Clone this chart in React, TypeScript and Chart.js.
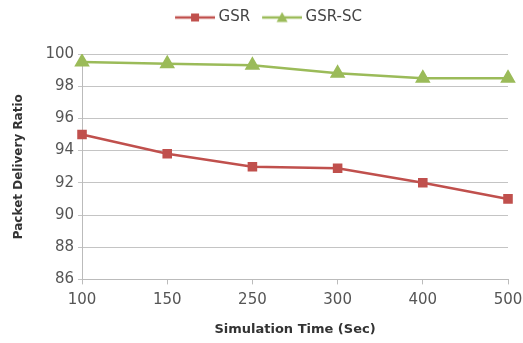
import React, { useEffect, useRef } from "react";
import { Chart, registerables } from "chart.js";

Chart.register(...registerables);

const categories = ["100", "150", "250", "300", "400", "500"];
const gsr = [95.0, 93.8, 93.0, 92.9, 92.0, 91.0];
const gsrSc = [99.5, 99.4, 99.3, 98.8, 98.5, 98.5];
const seriesNames = ["GSR", "GSR-SC"];

const RED = "#C0504D";
const GREEN = "#9BBB59";
const FONT = "'DejaVu Sans', sans-serif";
const BLANK = 6;

function legendIcon(color: string, shape: "rect" | "triangle"): HTMLCanvasElement {
  const c = document.createElement("canvas");
  c.width = 40 + BLANK;
  c.height = 12;
  const ctx = c.getContext("2d")!;
  ctx.translate(BLANK, 0);
  ctx.strokeStyle = color;
  ctx.lineWidth = 2.5;
  ctx.beginPath();
  ctx.moveTo(0, 6);
  ctx.lineTo(40, 6);
  ctx.stroke();
  ctx.fillStyle = color;
  if (shape === "rect") {
    ctx.fillRect(16, 2, 8, 8);
  } else {
    ctx.beginPath();
    ctx.moveTo(20, 0.5);
    ctx.lineTo(25.5, 10.5);
    ctx.lineTo(14.5, 10.5);
    ctx.closePath();
    ctx.fill();
  }
  return c;
}

const legendMargin = {
  id: "legendMargin",
  beforeInit(chart: any) {
    const fit = chart.legend.fit;
    chart.legend.fit = function () {
      fit.bind(chart.legend)();
      this.height += 19;
    };
  },
};

export default function App() {
  const ref = useRef<HTMLCanvasElement | null>(null);
  useEffect(() => {
    if (!ref.current) return;
    const icons = [legendIcon(RED, "rect"), legendIcon(GREEN, "triangle")];
    const chart = new Chart(ref.current, {
      type: "line",
      data: {
        labels: categories,
        datasets: [
          {
            label: seriesNames[0],
            data: gsr,
            borderColor: RED,
            backgroundColor: RED,
            borderWidth: 2.5,
            pointStyle: "rect",
            pointRadius: 5,
            pointHoverRadius: 5,
          },
          {
            label: seriesNames[1],
            data: gsrSc,
            borderColor: GREEN,
            backgroundColor: GREEN,
            borderWidth: 2.5,
            pointStyle: "triangle",
            pointRadius: 6.5,
            pointHoverRadius: 6.5,
          },
        ],
      },
      plugins: [legendMargin],
      options: {
        animation: false,
        responsive: false,
        maintainAspectRatio: false,
        layout: { padding: { left: 12, right: 0, top: 0, bottom: 6 } },
        plugins: {
          tooltip: { enabled: false },
          legend: {
            position: "top",
            labels: {
              usePointStyle: true,
              pointStyleWidth: 38,
              boxWidth: 38,
              boxHeight: 12,
              padding: 10,
              color: "#444",
              font: { family: FONT, size: 15 },
              generateLabels: (ch: any) =>
                ch.data.datasets.map((d: any, i: number) => ({
                  text: d.label,
                  pointStyle: icons[i],
                  fillStyle: d.borderColor,
                  strokeStyle: d.borderColor,
                  lineWidth: 0,
                  hidden: false,
                  datasetIndex: i,
                  fontColor: "#444",
                })),
            },
          },
        },
        scales: {
          x: {
            offset: false,
            afterFit(scale: any) {
              scale.paddingRight = 15;
            },
            grid: {
              display: true,
              drawOnChartArea: false,
              drawTicks: true,
              tickLength: 5,
              color: "#bbb",
            },
            border: { display: true, color: "#bbb" },
            ticks: { color: "#555", font: { family: FONT, size: 15 }, padding: 7 },
            title: {
              display: true,
              text: "Simulation Time (Sec)",
              color: "#333",
              font: { family: FONT, size: 13, weight: "bold" },
              padding: { top: 5, bottom: 0 },
            },
          },
          y: {
            min: 86,
            max: 100,
            ticks: {
              stepSize: 2,
              color: "#555",
              font: { family: FONT, size: 15 },
              padding: 4,
            },
            grid: { color: "#c4c4c4", tickLength: 4, lineWidth: 1 },
            border: { display: true, color: "#bbb" },
            title: {
              display: true,
              text: "Packet Delivery Ratio",
              color: "#333",
              font: { family: FONT, size: 12, weight: "bold" },
              padding: { top: 0, bottom: 15 },
            },
          },
        },
      },
    });
    return () => chart.destroy();
  }, []);
  return (
    <div style={{ position: "absolute", left: 0, top: 0, width: 523, height: 343, background: "#fff" }}>
      <canvas ref={ref} width={523} height={343} />
    </div>
  );
}
